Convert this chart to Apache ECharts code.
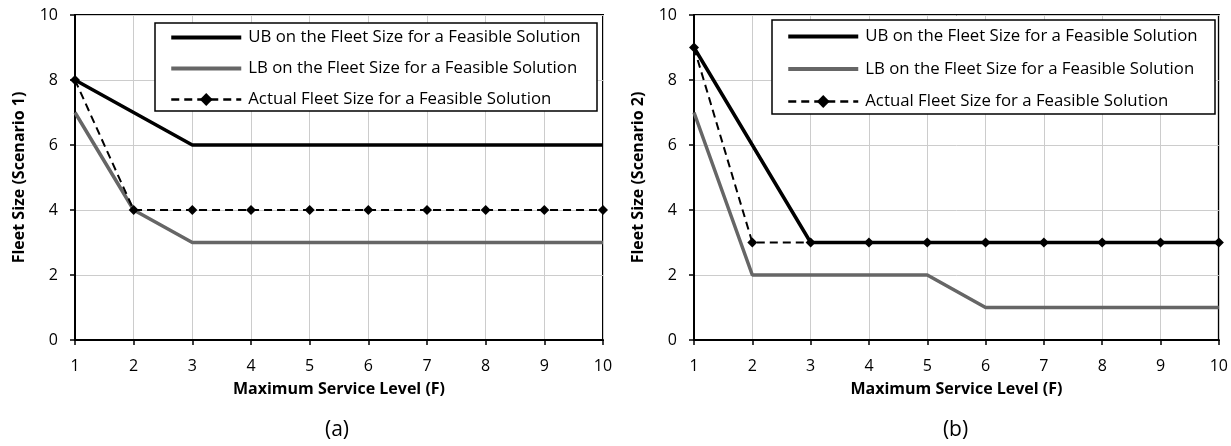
<!DOCTYPE html>
<html><head><meta charset="utf-8">
<script src="https://cdn.jsdelivr.net/npm/echarts@6/dist/echarts.min.js"></script>
<style>html,body{margin:0;padding:0;background:#fff}#c{width:1231px;height:446px}</style>
</head><body><div id="c"></div>
<script>
const xLevels = [1,2,3,4,5,6,7,8,9,10];
const ubA = [8,7,6,6,6,6,6,6,6,6];
const lbA = [7,4,3,3,3,3,3,3,3,3];
const actA = [8,4,4,4,4,4,4,4,4,4];
const ubB = [9,6,3,3,3,3,3,3,3,3];
const lbB = [7,2,2,2,2,1,1,1,1,1];
const actB = [9,3,3,3,3,3,3,3,3,3];
const yTicks = [0,2,4,6,8,10];
const names = ['UB on the Fleet Size for a Feasible Solution','LB on the Fleet Size for a Feasible Solution','Actual Fleet Size for a Feasible Solution'];
const yTitles = ['Fleet Size (Scenario 1)','Fleet Size (Scenario 2)'];
const xTitle = 'Maximum Service Level (F)';
const panelLabels = ['(a)','(b)'];

const FONT = 'Open Sans';
const LINEICON = 'path://M0,0h0.01v0.01h-0.01zM0,6h70v4h-70zM0,15.99h0.01v0.01h-0.01z';
const pair = arr => arr.map((v,i)=>[xLevels[i], v]);
const chart = echarts.init(document.getElementById('c'));

const grids = [
  {left:75, width:528, top:15, height:325},
  {left:694, width:527, top:15, height:325}
];
function xAx(i){return {type:'value', gridIndex:i, min:xLevels[0], max:xLevels[xLevels.length-1], interval:1,
  name:xTitle, nameLocation:'middle', nameGap:41, nameMoveOverlap:false,
  nameTextStyle:{fontFamily:FONT, fontWeight:'bold', fontSize:16, color:'#000'},
  axisLine:{show:true, onZero:false, lineStyle:{color:'#000', width:2}},
  axisTick:{show:true, length:5, lineStyle:{color:'#000', width:1.5}},
  axisLabel:{fontFamily:FONT, fontSize:16, color:'#000', margin:8, padding:[10,0,0,0]},
  splitLine:{show:true, lineStyle:{color:'#cccccc', width:1}}};}
function yAx(i){return {type:'value', gridIndex:i, min:yTicks[0], max:yTicks[yTicks.length-1], interval:2,
  name:yTitles[i], nameLocation:'middle', nameGap:48, nameMoveOverlap:false,
  nameTextStyle:{fontFamily:FONT, fontWeight:'bold', fontSize:16, color:'#000'},
  axisLine:{show:true, lineStyle:{color:'#000', width:2}},
  axisTick:{show:true, length:5, lineStyle:{color:'#000', width:1.5}},
  axisLabel:{fontFamily:FONT, fontSize:16, color:'#000', margin:17},
  splitLine:{show:true, lineStyle:{color:'#cccccc', width:1}}};}

function mk(i, ub, lb, act){
  return [
    {name:names[0], type:'line', xAxisIndex:i, yAxisIndex:i, data:pair(ub), showSymbol:false, symbol:'none',
     lineStyle:{color:'#000', width:3.5}, itemStyle:{color:'#000'}, z:3},
    {name:names[1], type:'line', xAxisIndex:i, yAxisIndex:i, data:pair(lb), showSymbol:false, symbol:'none',
     lineStyle:{color:'#666', width:3.5}, itemStyle:{color:'#666'}, z:2},
    {name:names[2], type:'line', xAxisIndex:i, yAxisIndex:i, data:pair(act), symbol:'diamond', symbolSize:10,
     lineStyle:{color:'#000', width:2, type:[8,5]}, itemStyle:{color:'#000'}, z:4}
  ];
}

const legendBoxes = [
  {x:155, y:23, w:442, h:88, lx:170, gap:14},
  {x:772, y:20, w:443, h:94, lx:787, gap:15.5}
];

chart.setOption({
  animation:false,
  grid: grids.map(g=>Object.assign({show:true, borderColor:'#000', borderWidth:2, backgroundColor:'transparent'}, g)),
  xAxis:[xAx(0), xAx(1)],
  yAxis:[yAx(0), yAx(1)],
  legend: legendBoxes.map((b,i)=>({
    left:b.lx, top:b.y+6 + (i===1?2:0), orient:'vertical', itemWidth:70, itemHeight:16,
    itemGap: b.gap, z:20,
    data:[
      {name:names[0], icon:LINEICON},
      {name:names[1], icon:LINEICON},
      {name:names[2], lineStyle:{width:2.5}}
    ],
    selectedMode:false,
    textStyle:{fontFamily:FONT, fontSize:16.8, color:'#000', padding:[0,0,0,2]},
    padding:0
  })),
  graphic: legendBoxes.map(b=>({type:'rect', shape:{x:b.x, y:b.y, width:b.w, height:b.h},
      style:{fill:'#fff', stroke:'#000', lineWidth:1.5}, z:5}))
    .concat(panelLabels.map((t,i)=>({type:'text', x:grids[i].left+grids[i].width/2 - 2, y:430,
      style:{text:t, font:'21px "Open Sans"', fill:'#000', textAlign:'center', textVerticalAlign:'middle'}}))),
  series: mk(0, ubA, lbA, actA).concat(mk(1, ubB, lbB, actB))
});
</script></body></html>
